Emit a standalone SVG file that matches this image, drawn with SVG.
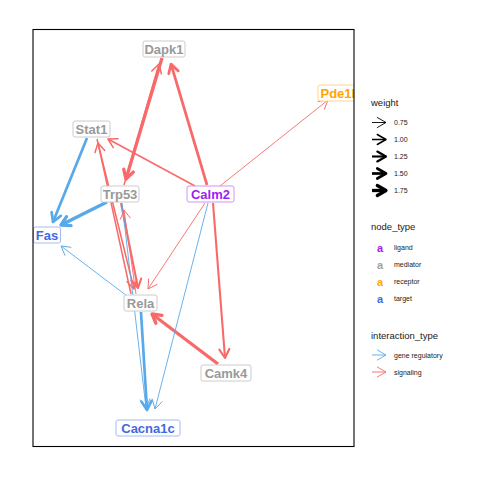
<svg xmlns="http://www.w3.org/2000/svg" width="480" height="480" viewBox="0 0 480 480">
  <style>
    .lbl rect { fill: #ffffff; stroke-width: 1; }
    .lbl text { font-family: "Liberation Sans", Arial, sans-serif; font-weight: bold; font-size: 13px; text-anchor: middle; }
    .ligand rect { stroke: #cf94f6; } .ligand text { fill: #a020f0; }
    .mediator rect { stroke: #cccccc; } .mediator text { fill: #999999; }
    .receptor rect { stroke: #ffd58a; } .receptor text { fill: #ffa500; }
    .target rect { stroke: #a7b9f2; } .target text { fill: #4169e1; }
    .e { fill: none; stroke-linecap: butt; }
    .sig { stroke: #f86a6a; }
    .reg { stroke: #58a9ea; }
    .w1 { stroke-width: 0.9; } .w2 { stroke-width: 1.5; } .w3 { stroke-width: 2.1; } .w4 { stroke-width: 2.7; } .w5 { stroke-width: 3.3; }
    .ah { fill: none; stroke-linejoin: round; stroke-linecap: round; }
    .lt { font-family: "Liberation Sans", Arial, sans-serif; font-size: 9.5px; fill: #1a1a1a; }
    .li { font-family: "Liberation Sans", Arial, sans-serif; font-size: 7px; fill: #1a1a1a; }
    .key { font-family: "Liberation Sans", Arial, sans-serif; font-weight: bold; font-size: 11px; text-anchor: middle; }
  </style>
  <defs>
    <clipPath id="panel"><rect x="33" y="29.5" width="321" height="417"/></clipPath>
    <!-- open arrowheads, one per colour and stroke width -->
    <marker id="r1" viewBox="-12 -8 14 16" markerWidth="14" markerHeight="16" refX="0" refY="0" orient="auto" markerUnits="userSpaceOnUse" overflow="visible"><path class="ah" d="M-8.7,-5L0,0L-8.7,5" stroke="#f86a6a" stroke-width="0.9"/></marker>
    <marker id="r2" viewBox="-12 -8 14 16" markerWidth="14" markerHeight="16" refX="0" refY="0" orient="auto" markerUnits="userSpaceOnUse" overflow="visible"><path class="ah" d="M-8.7,-5L0,0L-8.7,5" stroke="#f86a6a" stroke-width="1.5"/></marker>
    <marker id="r3" viewBox="-12 -8 14 16" markerWidth="14" markerHeight="16" refX="0" refY="0" orient="auto" markerUnits="userSpaceOnUse" overflow="visible"><path class="ah" d="M-8.7,-5L0,0L-8.7,5" stroke="#f86a6a" stroke-width="2.1"/></marker>
    <marker id="r4" viewBox="-12 -8 14 16" markerWidth="14" markerHeight="16" refX="0" refY="0" orient="auto" markerUnits="userSpaceOnUse" overflow="visible"><path class="ah" d="M-8.7,-5L0,0L-8.7,5" stroke="#f86a6a" stroke-width="2.7"/></marker>
    <marker id="r5" viewBox="-12 -8 14 16" markerWidth="14" markerHeight="16" refX="0" refY="0" orient="auto" markerUnits="userSpaceOnUse" overflow="visible"><path class="ah" d="M-8.7,-5L0,0L-8.7,5" stroke="#f86a6a" stroke-width="3.3"/></marker>
    <marker id="b1" viewBox="-12 -8 14 16" markerWidth="14" markerHeight="16" refX="0" refY="0" orient="auto" markerUnits="userSpaceOnUse" overflow="visible"><path class="ah" d="M-8.7,-5L0,0L-8.7,5" stroke="#58a9ea" stroke-width="0.9"/></marker>
    <marker id="b4" viewBox="-12 -8 14 16" markerWidth="14" markerHeight="16" refX="0" refY="0" orient="auto" markerUnits="userSpaceOnUse" overflow="visible"><path class="ah" d="M-8.7,-5L0,0L-8.7,5" stroke="#58a9ea" stroke-width="2.7"/></marker>
    <marker id="b5" viewBox="-12 -8 14 16" markerWidth="14" markerHeight="16" refX="0" refY="0" orient="auto" markerUnits="userSpaceOnUse" overflow="visible"><path class="ah" d="M-8.7,-5L0,0L-8.7,5" stroke="#58a9ea" stroke-width="3.3"/></marker>
    <marker id="k1" viewBox="-12 -8 14 16" markerWidth="14" markerHeight="16" refX="0" refY="0" orient="auto" markerUnits="userSpaceOnUse" overflow="visible"><path class="ah" d="M-8.7,-5L0,0L-8.7,5" stroke="#000" stroke-width="0.9"/></marker>
    <marker id="k2" viewBox="-12 -8 14 16" markerWidth="14" markerHeight="16" refX="0" refY="0" orient="auto" markerUnits="userSpaceOnUse" overflow="visible"><path class="ah" d="M-8.7,-5L0,0L-8.7,5" stroke="#000" stroke-width="1.5"/></marker>
    <marker id="k3" viewBox="-12 -8 14 16" markerWidth="14" markerHeight="16" refX="0" refY="0" orient="auto" markerUnits="userSpaceOnUse" overflow="visible"><path class="ah" d="M-8.7,-5L0,0L-8.7,5" stroke="#000" stroke-width="2.1"/></marker>
    <marker id="k4" viewBox="-12 -8 14 16" markerWidth="14" markerHeight="16" refX="0" refY="0" orient="auto" markerUnits="userSpaceOnUse" overflow="visible"><path class="ah" d="M-8.7,-5L0,0L-8.7,5" stroke="#000" stroke-width="2.7"/></marker>
    <marker id="k5" viewBox="-12 -8 14 16" markerWidth="14" markerHeight="16" refX="0" refY="0" orient="auto" markerUnits="userSpaceOnUse" overflow="visible"><path class="ah" d="M-8.7,-5L0,0L-8.7,5" stroke="#000" stroke-width="3.3"/></marker>
  </defs>

  <rect x="0" y="0" width="480" height="480" fill="#ffffff"/>

  <g clip-path="url(#panel)">
    <g id="connectors">
      <!-- signaling -->
      <line class="e sig w5" x1="162" y1="58" x2="126" y2="179" marker-end="url(#r5)"/>
      <line class="e sig w2" x1="124" y1="185" x2="159" y2="64" marker-end="url(#r2)"/>
      <line class="e sig w4" x1="207" y1="185" x2="171" y2="64" marker-end="url(#r4)"/>
      <line class="e sig w1" x1="220" y1="186" x2="328" y2="100" marker-end="url(#r1)"/>
      <line class="e sig w2" x1="195" y1="186" x2="108" y2="139" marker-end="url(#r2)"/>
      <line class="e sig w2" x1="97" y1="139" x2="134" y2="289" marker-end="url(#r2)"/>
      <line class="e sig w2" x1="131" y1="294" x2="98" y2="143" marker-end="url(#r2)"/>
      <line class="e sig w3" x1="121" y1="203" x2="138" y2="288" marker-end="url(#r3)"/>
      <line class="e sig w1" x1="136" y1="294" x2="124" y2="210" marker-end="url(#r1)"/>
      <line class="e sig w1" x1="205" y1="203" x2="148" y2="289" marker-end="url(#r1)"/>
      <line class="e sig w5" x1="218" y1="364" x2="152" y2="314" marker-end="url(#r5)"/>
      <line class="e sig w3" x1="213" y1="203" x2="225" y2="358" marker-end="url(#r3)"/>
      <!-- gene regulatory -->
      <line class="e reg w4" x1="87" y1="138" x2="53" y2="222" marker-end="url(#b4)"/>
      <line class="e reg w5" x1="107" y1="202" x2="61" y2="225" marker-end="url(#b5)"/>
      <line class="e reg w1" x1="127" y1="296" x2="61" y2="246" marker-end="url(#b1)"/>
      <line class="e reg w1" x1="122" y1="203" x2="146" y2="408" marker-end="url(#b1)"/>
      <line class="e reg w4" x1="141" y1="312" x2="147" y2="410" marker-end="url(#b4)"/>
      <line class="e reg w1" x1="208" y1="203" x2="155" y2="409" marker-end="url(#b1)"/>
    </g>

    <g id="Dapk1" class="lbl mediator"><rect x="143" y="41" width="42" height="16" rx="2"/><text x="164" y="53.5">Dapk1</text></g>
    <g id="Pde1b" class="lbl receptor"><rect x="318" y="85" width="44" height="16" rx="2"/><text x="340" y="97.5">Pde1b</text></g>
    <g id="Stat1" class="lbl mediator"><rect x="73" y="121" width="37" height="16" rx="2"/><text x="91.5" y="133.5">Stat1</text></g>
    <g id="Trp53" class="lbl mediator"><rect x="101" y="186" width="38" height="16" rx="2"/><text x="120" y="198.5">Trp53</text></g>
    <g id="Calm2" class="lbl ligand"><rect x="187" y="186" width="47" height="16" rx="2"/><text x="210.5" y="198.5">Calm2</text></g>
    <g id="Fas" class="lbl target"><rect x="33.5" y="227" width="27" height="16" rx="2"/><text x="47" y="239.5">Fas</text></g>
    <g id="Rela" class="lbl mediator"><rect x="124" y="295" width="33" height="16" rx="2"/><text x="140.5" y="307.5">Rela</text></g>
    <g id="Camk4" class="lbl mediator"><rect x="201" y="365" width="50" height="16" rx="2"/><text x="226" y="377.5">Camk4</text></g>
    <g id="Cacna1c" class="lbl target"><rect x="116" y="420" width="64" height="16" rx="2"/><text x="148" y="432.5">Cacna1c</text></g>
  </g>

  <!-- panel border -->
  <rect x="33" y="29.5" width="321" height="417" fill="none" stroke="#000" stroke-width="1.1"/>

  <!-- legend: weight -->
  <g id="legend-weight">
    <text class="lt" x="371" y="106">weight</text>
    <line x1="372" y1="122.5" x2="386" y2="122.5" stroke="#000" stroke-width="0.9" marker-end="url(#k1)"/>
    <line x1="372" y1="139.5" x2="386" y2="139.5" stroke="#000" stroke-width="1.5" marker-end="url(#k2)"/>
    <line x1="372" y1="156.5" x2="386" y2="156.5" stroke="#000" stroke-width="2.1" marker-end="url(#k3)"/>
    <line x1="372" y1="173.5" x2="386" y2="173.5" stroke="#000" stroke-width="2.7" marker-end="url(#k4)"/>
    <line x1="372" y1="190.5" x2="386" y2="190.5" stroke="#000" stroke-width="3.3" marker-end="url(#k5)"/>
    <text class="li" x="394" y="125">0.75</text>
    <text class="li" x="394" y="142">1.00</text>
    <text class="li" x="394" y="159">1.25</text>
    <text class="li" x="394" y="176">1.50</text>
    <text class="li" x="394" y="193">1.75</text>
  </g>

  <!-- legend: node_type -->
  <g id="legend-node-type">
    <text class="lt" x="371" y="230">node_type</text>
    <text class="key" x="380" y="251.5" fill="#a020f0">a</text>
    <text class="key" x="380" y="268.5" fill="#a0a0a0">a</text>
    <text class="key" x="380" y="285.5" fill="#ffa500">a</text>
    <text class="key" x="380" y="302.5" fill="#4169e1">a</text>
    <text class="li" x="394" y="250">ligand</text>
    <text class="li" x="394" y="267">mediator</text>
    <text class="li" x="394" y="284">receptor</text>
    <text class="li" x="394" y="301">target</text>
  </g>

  <!-- legend: interaction_type -->
  <g id="legend-interaction">
    <text class="lt" x="371" y="339">interaction_type</text>
    <line x1="372" y1="355" x2="386" y2="355" stroke="#58a9ea" stroke-width="0.9" marker-end="url(#b1)"/>
    <line x1="372" y1="372" x2="386" y2="372" stroke="#f86a6a" stroke-width="0.9" marker-end="url(#r1)"/>
    <text class="li" x="394" y="357.5">gene regulatory</text>
    <text class="li" x="394" y="374.5">signaling</text>
  </g>
</svg>
